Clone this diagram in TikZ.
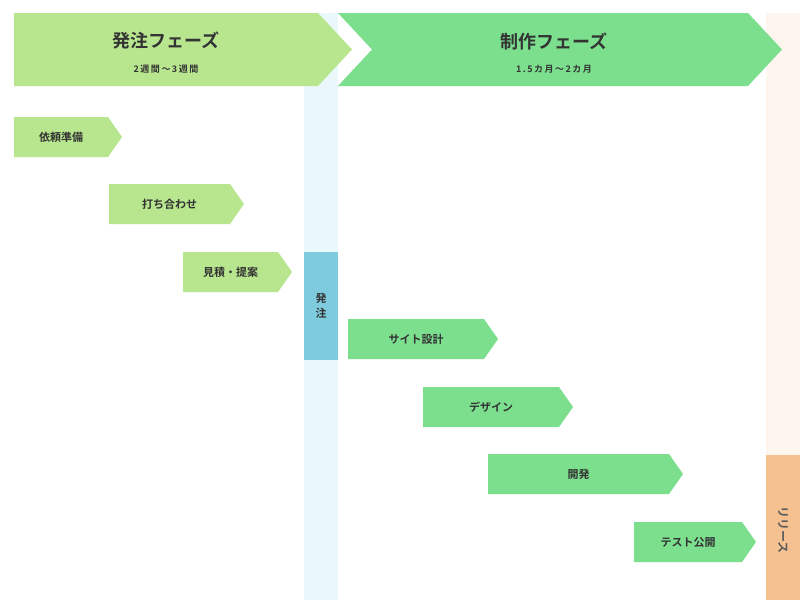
\documentclass[tikz,border=0pt]{standalone}
\usepackage{fontspec}
\setmainfont{Noto Sans CJK JP}[BoldFont={* Bold}]
\begin{document}
\begin{tikzpicture}[x=1pt,y=-1pt,
 lg/.style={fill=lightg,draw=none},
 dg/.style={fill=darkg,draw=none},
 lbl/.style={font=\bfseries\fontsize{11}{13}\selectfont,text=txt,anchor=center}]
\definecolor{lightg}{HTML}{B8E68E}
\definecolor{darkg}{HTML}{7BDF8E}
\definecolor{txt}{HTML}{333333}
\definecolor{lblue}{HTML}{EAF8FC}
\definecolor{mblue}{HTML}{7ECBDD}
\definecolor{lor}{HTML}{FEF5EE}
\definecolor{mor}{HTML}{F6C190}
\useasboundingbox (0,0) rectangle (800,600);
\fill[white] (0,0) rectangle (800,600);
\fill[lblue] (304,13) rectangle (338,600);
\fill[lor] (766,13) rectangle (800,455);
\fill[mor] (766,455) rectangle (800,600);
\fill[mblue] (304,252) rectangle (338,360);
% headers
\fill[lightg] (14,13) -- (318,13) -- (352,49.5) -- (318,86) -- (14,86) -- cycle;
\fill[darkg] (338,13) -- (748,13) -- (782,49.5) -- (748,86) -- (338,86) -- (372,49.5) -- cycle;
\node[font=\bfseries\fontsize{18}{20}\selectfont,text=txt] (h1) at (166,41) {発注フェーズ};
\node[font=\bfseries\fontsize{9}{11}\selectfont,text=txt] (h1s) at (166,69) {2\,週\,間\,〜\,3\,週\,間};
\node[font=\bfseries\fontsize{18}{20}\selectfont,text=txt] (h2) at (554,41) {制作フェーズ};
\node[font=\bfseries\fontsize{9}{11}\selectfont,text=txt] (h2s) at (554,69) {1\,.\,5\,カ\,月\,〜\,2\,カ\,月};
% tasks
\newcommand\tsk[6]{\fill[#6] (#1,#3) -- (#2,#3) -- ({#2+14},{#3+20}) -- (#2,{#3+40}) -- (#1,{#3+40}) -- cycle;
 \node[lbl] (#5) at ({(#1+#2)/2},{#3+20}) {#4};}
\tsk{14}{108}{117}{依頼準備}{t1}{lightg}
\tsk{109}{230}{184}{打ち合わせ}{t2}{lightg}
\tsk{183}{278}{252}{見積・提案}{t3}{lightg}
\tsk{348}{484}{319}{サイト設計}{t4}{darkg}
\tsk{423}{559}{387}{デザイン}{t5}{darkg}
\tsk{488}{669}{454}{開発}{t6}{darkg}
\tsk{634}{742}{522}{テスト公開}{t7}{darkg}
\node[lbl,align=center,font=\bfseries\fontsize{11}{15}\selectfont] (o) at (321,306) {発\\注};
\node[lbl,text=txt!80,font=\bfseries\fontsize{12}{13}\selectfont,rotate=-90] (r) at (783,530) {リリース};
\end{tikzpicture}
\end{document}
